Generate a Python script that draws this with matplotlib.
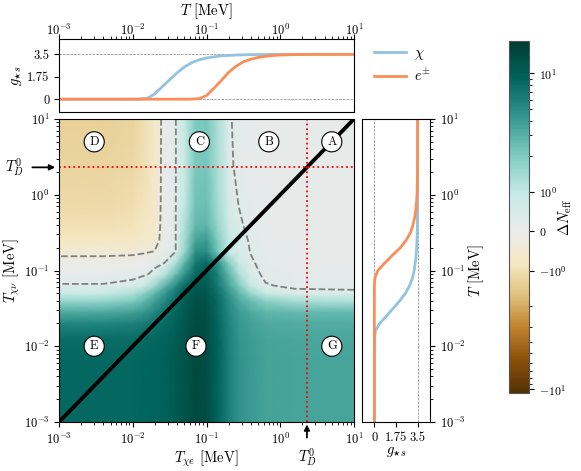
import numpy as np
import matplotlib
matplotlib.use('Agg')
import matplotlib.pyplot as plt
from matplotlib.colors import SymLogNorm, LinearSegmentedColormap
from matplotlib.ticker import FixedLocator, FixedFormatter, NullFormatter
from matplotlib.lines import Line2D

plt.rcParams.update({
    'font.family': 'serif', 'font.serif': ['cmr10'], 'mathtext.fontset': 'cm',
    'axes.formatter.use_mathtext': True, 'axes.unicode_minus': False,
    'font.size': 9,
})

# ---------------- data ----------------
log_T_xe = [-3.0, -2.4, -2.0, -1.85, -1.7, -1.55, -1.42, -1.3, -1.15, -1.0,
            -0.85, -0.7, -0.55, -0.4, -0.2, 0.2, 1.0]
log_T_xnu = [-3.0, -2.2, -1.9, -1.7, -1.55, -1.4, -1.3, -1.2, -1.05, -0.9,
             -0.75, -0.6, -0.4, -0.1, 0.4, 1.0]
delta_neff = [
    [8.5, 8.5, 8.5, 8.7, 9.0, 9.6, 10.5, 12.0, 14.5, 13.5, 9.0, 6.0, 4.5, 4.0, 3.6, 3.5, 3.5],
    [8.5, 8.5, 8.5, 8.7, 9.0, 9.6, 10.5, 12.0, 14.5, 13.5, 9.0, 6.0, 4.5, 4.0, 3.6, 3.5, 3.5],
    [7.8, 7.8, 7.9, 8.1, 8.5, 9.2, 10.2, 11.8, 14.2, 13.3, 8.9, 5.9, 4.4, 3.9, 3.5, 3.4, 3.4],
    [5.5, 5.5, 5.8, 6.3, 7.2, 8.3, 9.6, 11.3, 13.8, 13.0, 8.7, 5.7, 4.2, 3.7, 3.3, 3.2, 3.2],
    [3.3, 3.3, 3.7, 4.3, 5.5, 7.0, 8.7, 10.8, 13.4, 12.6, 8.4, 5.4, 3.9, 3.3, 2.8, 2.6, 2.6],
    [1.6, 1.6, 2.0, 2.6, 3.8, 5.6, 7.6, 10.0, 12.8, 12.0, 8.0, 5.0, 3.3, 2.5, 1.8, 1.3, 1.2],
    [0.9, 0.9, 1.2, 1.7, 2.8, 4.5, 6.6, 9.2, 12.0, 11.3, 7.5, 4.4, 2.6, 1.6, 0.9, 0.45, 0.4],
    [0.33, 0.33, 0.45, 0.75, 1.5, 3.0, 5.0, 8.0, 11.0, 10.5, 6.8, 3.6, 1.9, 0.95, 0.33, 0.18, 0.16],
    [0.1, 0.1, 0.14, 0.22, 0.45, 1.2, 2.5, 4.5, 8.5, 9.0, 6.0, 2.8, 1.2, 0.45, 0.2, 0.12, 0.12],
    [-0.12, -0.12, -0.08, 0.0, 0.15, 0.33, 1.2, 2.8, 6.5, 8.5, 4.8, 1.9, 0.75, 0.35, 0.14, 0.1, 0.1],
    [-0.45, -0.45, -0.42, -0.37, -0.28, 0.1, 0.28, 1.5, 4.8, 5.0, 2.3, 0.9, 0.5, 0.28, 0.12, 0.1, 0.1],
    [-0.8, -0.8, -0.74, -0.66, -0.5, 0.06, 0.28, 1.4, 3.5, 4.0, 2.0, 1.0, 0.55, 0.2, 0.11, 0.1, 0.1],
    [-0.98, -0.98, -0.92, -0.8, -0.58, 0.05, 0.28, 1.2, 2.6, 2.8, 1.6, 0.75, 0.36, 0.15, 0.1, 0.1, 0.1],
    [-1.1, -1.1, -1.04, -0.9, -0.63, 0.05, 0.28, 1.0, 2.3, 2.4, 1.4, 0.55, 0.25, 0.12, 0.1, 0.1, 0.1],
    [-1.2, -1.2, -1.14, -0.98, -0.66, 0.05, 0.28, 0.9, 2.1, 2.2, 1.3, 0.4, 0.14, 0.1, 0.1, 0.1, 0.1],
    [-1.25, -1.25, -1.18, -1.0, -0.68, 0.05, 0.28, 0.9, 2.0, 2.2, 1.3, 0.36, 0.12, 0.1, 0.1, 0.1, 0.1],
]
contour_levels = [-0.3, 0.3]

logT_chi = [-3.0, -2.0, -1.9, -1.8, -1.7, -1.6, -1.5, -1.4, -1.3, -1.2, -1.1, -1.0,
            -0.9, -0.8, -0.6, -0.4, 0.0, 1.0]
g_chi = [0.0, 0.0, 0.01, 0.08, 0.42, 0.98, 1.52, 2.05, 2.52, 2.85, 3.08, 3.22,
         3.31, 3.38, 3.45, 3.48, 3.5, 3.5]
logT_e = [-3.0, -1.3, -1.2, -1.1, -1.0, -0.9, -0.8, -0.7, -0.6, -0.5, -0.4, -0.3,
          -0.2, -0.1, 0.0, 0.2, 0.5, 1.0]
g_e = [0.0, 0.0, 0.005, 0.04, 0.28, 0.85, 1.45, 2.1, 2.57, 2.92, 3.12, 3.26,
       3.35, 3.41, 3.45, 3.48, 3.5, 3.5]

T_D0 = 2.3
region_names = ['A', 'B', 'C', 'D', 'E', 'F', 'G']
region_x = [5.0, 0.7, 0.08, 0.003, 0.003, 0.072, 5.0]
region_y = [5.0, 5.0, 5.0, 5.0, 0.01, 0.01, 0.01]
T_range = [1e-3, 10.0]
g_ticks = [0, 1.75, 3.5]
g_ticklabels = ['0', '1.75', '3.5']
cbar_ticks = [-10, -1, 0, 1, 10]
cbar_ticklabels = [r'$-10^{1}$', r'$-10^{0}$', r'$0$', r'$10^{0}$', r'$10^{1}$']
cbar_min, cbar_max = -10.8, 18.8

blue = '#93c3e0'
orange = '#fc8d59'
centre_colour = '#e9ebeb'

# ---------------- figure ----------------
W, H = 581, 471
fig = plt.figure(figsize=(W / 100, H / 100), dpi=100)


def ax_px(l, t, r, b):
    return fig.add_axes([l / W, 1 - b / H, (r - l) / W, (b - t) / H])


ax = ax_px(59, 119, 354, 422)
axt = ax_px(59, 39, 354, 112)
axr = ax_px(362, 119, 430, 422)
cax = ax_px(509, 41, 529, 393)

norm = SymLogNorm(linthresh=1.0, linscale=0.3, vmin=cbar_min, vmax=cbar_max, base=10)
# BrBG with its light centre placed at value 0
p0 = float(norm(0.0))
base = plt.get_cmap('BrBG')
anchors = [0.0, 0.1, 0.2, 0.3, 0.4, 0.5, 0.6, 0.7, 0.8, 0.9, 1.0]
anchor_cols = [base(a) for a in anchors]
anchor_cols[5] = centre_colour
pos = [a / 0.5 * p0 if a <= 0.5 else p0 + (a - 0.5) / 0.5 * (1 - p0) for a in anchors]
cmap = LinearSegmentedColormap.from_list('BrBG0', list(zip(pos, anchor_cols)))

X = 10 ** np.array(log_T_xe)
Y = 10 ** np.array(log_T_xnu)
Z = np.array(delta_neff)
mesh = ax.pcolormesh(X, Y, Z, shading='gouraud', cmap=cmap, norm=norm, rasterized=True)
ax.contour(X, Y, Z, levels=contour_levels, colors='#808080', linestyles='--', linewidths=1.3)
ax.plot(T_range, T_range, color='k', lw=2.8, solid_capstyle='butt')
ax.axvline(T_D0, color='red', ls=':', lw=1.3)
ax.axhline(T_D0, color='red', ls=':', lw=1.3)
ax.set_xscale('log')
ax.set_yscale('log')
ax.set_xlim(T_range)
ax.set_ylim(T_range)
ax.set_xlabel(r'$T_{\chi e}$ [MeV]', fontsize=10.5, labelpad=1)
ax.set_ylabel(r'$T_{\chi\nu}$ [MeV]', fontsize=10.5, labelpad=1)
for n, x, y in zip(region_names, region_x, region_y):
    ax.text(x, y, n, ha='center', va='center', fontsize=9,
            bbox=dict(boxstyle='circle,pad=0.32', fc='white', ec='black', lw=0.8))

# arrows for T_D^0
ax.annotate(r'$T_D^0$', xy=(-0.013, T_D0), xycoords=ax.get_yaxis_transform(),
            xytext=(-0.15, T_D0), textcoords=ax.get_yaxis_transform(),
            ha='center', va='center', fontsize=10.5, annotation_clip=False,
            arrowprops=dict(arrowstyle='-|>', color='k', lw=1.3, mutation_scale=8,
                            shrinkA=4, shrinkB=0))
ax.annotate(r'$T_D^0$', xy=(T_D0, -0.008), xycoords=ax.get_xaxis_transform(),
            xytext=(T_D0, -0.115), textcoords=ax.get_xaxis_transform(),
            ha='center', va='center', fontsize=10.5, annotation_clip=False,
            arrowprops=dict(arrowstyle='-|>', color='k', lw=1.3, mutation_scale=8,
                            shrinkA=4, shrinkB=0))

# top panel
axt.axhline(0, color='gray', ls='--', lw=0.5)
axt.axhline(3.5, color='gray', ls='--', lw=0.5)
axt.plot(10 ** np.array(logT_chi), g_chi, color=blue, lw=2)
axt.plot(10 ** np.array(logT_e), g_e, color=orange, lw=2)
axt.set_xscale('log')
axt.set_xlim(T_range)
axt.set_ylim(-1, 4.7)
axt.xaxis.tick_top()
axt.xaxis.set_label_position('top')
axt.tick_params(axis='x', which='major', pad=-3)
axt.set_xlabel(r'$T$ [MeV]', fontsize=10.5, labelpad=5.5)
axt.set_yticks(g_ticks)
axt.set_yticklabels(g_ticklabels)
axt.set_ylabel(r'$g_{\star s}$', fontsize=10.5, labelpad=2)

# right panel
axr.axvline(0, color='gray', ls='--', lw=0.5)
axr.axvline(3.5, color='gray', ls='--', lw=0.5)
axr.plot(g_chi, 10 ** np.array(logT_chi), color=blue, lw=2)
axr.plot(g_e, 10 ** np.array(logT_e), color=orange, lw=2)
axr.set_yscale('log')
axr.set_ylim(T_range)
axr.set_xlim(-1, 4.5)
axr.yaxis.tick_right()
axr.yaxis.set_label_position('right')
axr.set_ylabel(r'$T$ [MeV]', fontsize=10.5, labelpad=1)
axr.set_xticks(g_ticks)
axr.set_xticklabels(g_ticklabels)
axr.set_xlabel(r'$g_{\star s}$', fontsize=10.5, labelpad=1)

# legend
handles = [Line2D([], [], color=blue, lw=2), Line2D([], [], color=orange, lw=2)]
fig.legend(handles, [r'$\chi$', r'$e^{\pm}$'], loc='upper left',
           bbox_to_anchor=(361 / W, 1 - 33 / H), frameon=False, fontsize=10.5,
           handlelength=2.2, handletextpad=0.5, labelspacing=0.3)

# colorbar
cb = fig.colorbar(mesh, cax=cax)
cax.yaxis.set_major_locator(FixedLocator(cbar_ticks))
cax.yaxis.set_major_formatter(FixedFormatter(cbar_ticklabels))
minor = [k * d for d in (1, 10) for k in range(2, 10) if k * d < cbar_max]
minor += [-k * d for d in (1, 10) for k in range(2, 10) if k * d < -cbar_min]
cax.yaxis.set_minor_locator(FixedLocator(minor))
cax.yaxis.set_minor_formatter(NullFormatter())
cax.tick_params(labelsize=8.5)
cb.outline.set_edgecolor('#555555')
cb.set_label(r'$\Delta N_{\rm eff}$', fontsize=10.5)
cax.yaxis.set_label_coords(2.4, 0.5)

fig.savefig('out.png', dpi=100)
